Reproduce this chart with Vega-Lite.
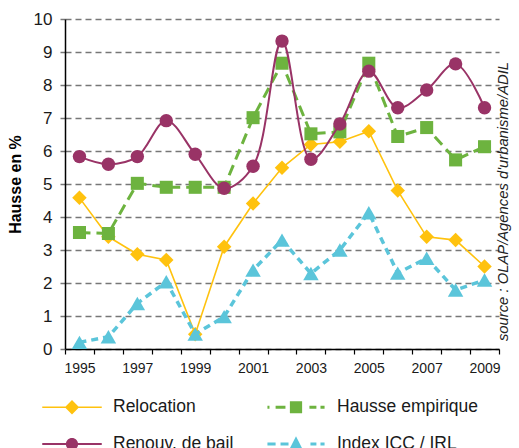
{
  "$schema": "https://vega.github.io/schema/vega-lite/v6.json",
  "autosize": "none",
  "width": 434,
  "height": 330,
  "padding": {"left": 65, "top": 19, "right": 20, "bottom": 99},
  "background": "white",
  "config": {
    "font": "Liberation Sans",
    "view": {"stroke": null}
  },
  "data": {
    "values": [
      {"year": 1995, "serie": "Relocation", "value": 4.58},
      {"year": 1996, "serie": "Relocation", "value": 3.4},
      {"year": 1997, "serie": "Relocation", "value": 2.87},
      {"year": 1998, "serie": "Relocation", "value": 2.7},
      {"year": 1999, "serie": "Relocation", "value": 0.45},
      {"year": 2000, "serie": "Relocation", "value": 3.1},
      {"year": 2001, "serie": "Relocation", "value": 4.41},
      {"year": 2002, "serie": "Relocation", "value": 5.49},
      {"year": 2003, "serie": "Relocation", "value": 6.2},
      {"year": 2004, "serie": "Relocation", "value": 6.28},
      {"year": 2005, "serie": "Relocation", "value": 6.6},
      {"year": 2006, "serie": "Relocation", "value": 4.8},
      {"year": 2007, "serie": "Relocation", "value": 3.4},
      {"year": 2008, "serie": "Relocation", "value": 3.3},
      {"year": 2009, "serie": "Relocation", "value": 2.5},
      {"year": 1995, "serie": "Renouv. de bail", "value": 5.83},
      {"year": 1996, "serie": "Renouv. de bail", "value": 5.6},
      {"year": 1997, "serie": "Renouv. de bail", "value": 5.83},
      {"year": 1998, "serie": "Renouv. de bail", "value": 6.92},
      {"year": 1999, "serie": "Renouv. de bail", "value": 5.9},
      {"year": 2000, "serie": "Renouv. de bail", "value": 4.87},
      {"year": 2001, "serie": "Renouv. de bail", "value": 5.54},
      {"year": 2002, "serie": "Renouv. de bail", "value": 9.33},
      {"year": 2003, "serie": "Renouv. de bail", "value": 5.75},
      {"year": 2004, "serie": "Renouv. de bail", "value": 6.82},
      {"year": 2005, "serie": "Renouv. de bail", "value": 8.42},
      {"year": 2006, "serie": "Renouv. de bail", "value": 7.31},
      {"year": 2007, "serie": "Renouv. de bail", "value": 7.85},
      {"year": 2008, "serie": "Renouv. de bail", "value": 8.64},
      {"year": 2009, "serie": "Renouv. de bail", "value": 7.31},
      {"year": 1995, "serie": "Hausse empirique", "value": 3.53},
      {"year": 1996, "serie": "Hausse empirique", "value": 3.5},
      {"year": 1997, "serie": "Hausse empirique", "value": 5.02},
      {"year": 1998, "serie": "Hausse empirique", "value": 4.9},
      {"year": 1999, "serie": "Hausse empirique", "value": 4.9},
      {"year": 2000, "serie": "Hausse empirique", "value": 4.9},
      {"year": 2001, "serie": "Hausse empirique", "value": 7.01},
      {"year": 2002, "serie": "Hausse empirique", "value": 8.66},
      {"year": 2003, "serie": "Hausse empirique", "value": 6.52},
      {"year": 2004, "serie": "Hausse empirique", "value": 6.58},
      {"year": 2005, "serie": "Hausse empirique", "value": 8.66},
      {"year": 2006, "serie": "Hausse empirique", "value": 6.44},
      {"year": 2007, "serie": "Hausse empirique", "value": 6.71},
      {"year": 2008, "serie": "Hausse empirique", "value": 5.73},
      {"year": 2009, "serie": "Hausse empirique", "value": 6.13},
      {"year": 1995, "serie": "Index ICC / IRL", "value": 0.2},
      {"year": 1996, "serie": "Index ICC / IRL", "value": 0.37},
      {"year": 1997, "serie": "Index ICC / IRL", "value": 1.38},
      {"year": 1998, "serie": "Index ICC / IRL", "value": 2.04},
      {"year": 1999, "serie": "Index ICC / IRL", "value": 0.45},
      {"year": 2000, "serie": "Index ICC / IRL", "value": 0.98},
      {"year": 2001, "serie": "Index ICC / IRL", "value": 2.39},
      {"year": 2002, "serie": "Index ICC / IRL", "value": 3.3},
      {"year": 2003, "serie": "Index ICC / IRL", "value": 2.29},
      {"year": 2004, "serie": "Index ICC / IRL", "value": 3.0},
      {"year": 2005, "serie": "Index ICC / IRL", "value": 4.13},
      {"year": 2006, "serie": "Index ICC / IRL", "value": 2.3},
      {"year": 2007, "serie": "Index ICC / IRL", "value": 2.75},
      {"year": 2008, "serie": "Index ICC / IRL", "value": 1.79},
      {"year": 2009, "serie": "Index ICC / IRL", "value": 2.09}
    ]
  },
  "encoding": {
    "x": {
      "field": "year", "type": "ordinal",
      "scale": {"type": "band", "paddingInner": 0, "paddingOuter": 0},
      "axis": {
        "title": null, "labelAngle": 0, "tickBand": "extent",
        "labelExpr": "datum.value % 2 == 1 ? datum.label : ''",
        "domainColor": "#000000", "domainWidth": 1.5, "tickColor": "#000000", "tickWidth": 1.2, "tickSize": 5,
        "labelFontSize": 14, "labelColor": "#1a1a1a", "labelPadding": 7, "grid": false
      }
    },
    "y": {
      "field": "value", "type": "quantitative",
      "scale": {"domain": [0, 10], "nice": false, "zero": true}
    }
  },
  "layer": [
    {
      "transform": [{"filter": "datum.serie == 'Relocation'"}],
      "mark": {"type": "line", "color": "#FFC20E", "strokeWidth": 1.6,
               "point": {"shape": "diamond", "size": 210, "filled": true, "color": "#FFC20E", "opacity": 1}},
      "encoding": {
        "y": {
          "field": "value", "type": "quantitative",
          "axis": {
            "title": "Hausse en %", "titleFontSize": 16, "titleFontWeight": "bold", "titleColor": "#000000", "titlePadding": 10,
            "values": [0,1,2,3,4,5,6,7,8,9,10],
            "labelFontSize": 17, "labelColor": "#1a1a1a", "labelPadding": 8,
            "domainColor": "#000000", "domainWidth": 1.5,
            "tickColor": "#777777", "tickSize": 5, "tickWidth": 1.5,
            "grid": true, "gridColor": "#777777", "gridDash": [6, 4], "gridWidth": 1.5
          }
        }
      }
    },
    {
      "transform": [{"filter": "datum.serie == 'Hausse empirique'"}],
      "mark": {"type": "line", "color": "#6DB33F", "strokeWidth": 3, "strokeDash": [11, 6],
               "point": {"shape": "square", "size": 170, "filled": true, "color": "#6DB33F", "opacity": 1}},
      "encoding": {
        "y": {
          "field": "value", "type": "quantitative",
          "axis": {
            "orient": "right", "title": "source : OLAP/Agences d'urbanisme/ADIL",
            "titleAngle": 270, "titleFontStyle": "italic", "titleFontWeight": "normal", "titleFontSize": 14.8,
            "titleColor": "#222222", "titlePadding": 11, "titleY": 182,
            "labels": false, "ticks": false, "domain": false, "grid": false
          }
        }
      }
    },
    {
      "transform": [{"filter": "datum.serie == 'Renouv. de bail'"}],
      "mark": {"type": "line", "color": "#993366", "strokeWidth": 2, "interpolate": "catmull-rom",
               "point": {"shape": "circle", "size": 180, "filled": true, "color": "#993366", "opacity": 1}},
      "encoding": {"y": {"field": "value", "type": "quantitative", "axis": null}}
    },
    {
      "transform": [{"filter": "datum.serie == 'Index ICC / IRL'"}],
      "mark": {"type": "line", "color": "#5BC5DA", "strokeWidth": 3.5, "strokeDash": [7, 5],
               "point": {"shape": "triangle-up", "size": 240, "filled": true, "color": "#5BC5DA", "opacity": 1}},
      "encoding": {"y": {"field": "value", "type": "quantitative", "axis": null}}
    },
    {
      "transform": [{"filter": "datum.value < -100"}],
      "mark": {"type": "point", "filled": true, "opacity": 1},
      "encoding": {
        "y": {"field": "value", "type": "quantitative", "axis": null},
        "color": {
          "field": "serie", "type": "nominal",
          "scale": {"domain": ["Relocation", "Hausse empirique", "Renouv. de bail", "Index ICC / IRL"],
                    "range": ["#FFC20E", "#6DB33F", "#993366", "#5BC5DA"]},
          "legend": {
            "orient": "none", "legendX": -10, "legendY": 371, "columns": 2, "direction": "horizontal",
            "title": null, "padding": 0, "symbolSize": 1156, "symbolStrokeWidth": 0, "symbolOpacity": 1,
            "labelFontSize": 17.5, "labelColor": "#1a1a1a", "labelOffset": 24, "labelLimit": 300,
            "columnPadding": 33, "rowPadding": 11
          }
        },
        "shape": {
          "field": "serie", "type": "nominal",
          "scale": {"domain": ["Relocation", "Hausse empirique", "Renouv. de bail", "Index ICC / IRL"],
                    "range": [
                      "M -1.75 -0.05 L 1.75 -0.05 L 1.75 0.05 L -1.75 0.05 Z M 0 -0.42 L 0.42 0 L 0 0.42 L -0.42 0 Z",
                      "M -1.68 -0.09 L -1.56 -0.09 L -1.56 0.09 L -1.68 0.09 Z M -1.2 -0.09 L -0.62 -0.09 L -0.62 0.09 L -1.2 0.09 Z M -0.36 -0.36 L 0.36 -0.36 L 0.36 0.36 L -0.36 0.36 Z M 0.79 -0.09 L 1.2 -0.09 L 1.2 0.09 L 0.79 0.09 Z M 1.44 -0.09 L 1.68 -0.09 L 1.68 0.09 L 1.44 0.09 Z",
                      "M -1.75 -0.06 L 1.75 -0.06 L 1.75 0.06 L -1.75 0.06 Z M -0.36 0 A 0.36 0.36 0 1 1 0.36 0 A 0.36 0.36 0 1 1 -0.36 0 Z",
                      "M -1.68 -0.09 L -1.2 -0.09 L -1.2 0.09 L -1.68 0.09 Z M -0.91 -0.09 L -0.44 -0.09 L -0.44 0.09 L -0.91 0.09 Z M 0 -0.45 L 0.41 0.35 L -0.41 0.35 Z M 0.85 -0.09 L 1.2 -0.09 L 1.2 0.09 L 0.85 0.09 Z M 1.44 -0.09 L 1.68 -0.09 L 1.68 0.09 L 1.44 0.09 Z"
                    ]}
        }
      }
    }
  ],
  "resolve": {"axis": {"y": "independent"}}
}
